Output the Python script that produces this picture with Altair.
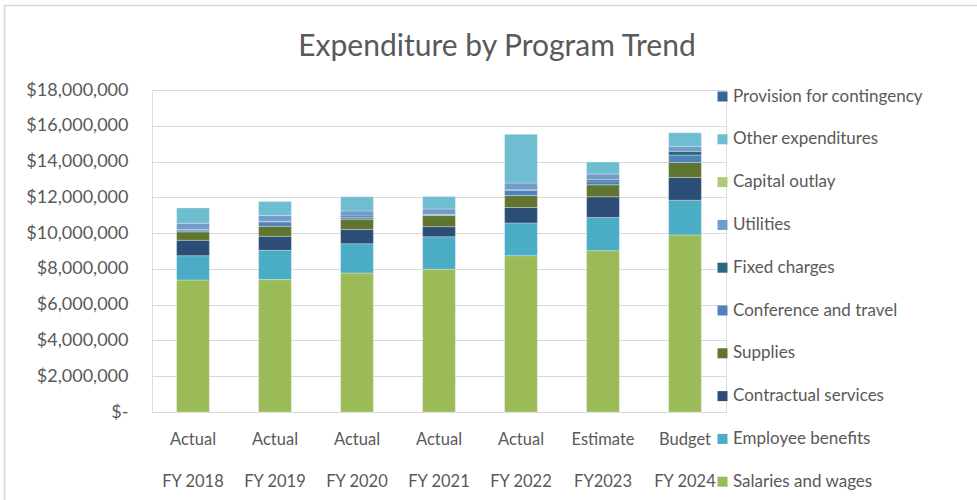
import altair as alt
import pandas as pd

years = ["Actual|FY 2018", "Actual|FY 2019", "Actual|FY 2020", "Actual|FY 2021",
         "Actual|FY 2022", "Estimate|FY2023", "Budget|FY 2024"]

salaries = [7380000, 7400000, 7770000, 7980000, 8740000, 9020000, 9900000]
benefits = [1360000, 1640000, 1640000, 1820000, 1830000, 1850000, 1940000]
contractual = [860000, 780000, 790000, 560000, 860000, 1160000, 1270000]
supplies = [470000, 560000, 580000, 620000, 670000, 670000, 840000]
conference = [100000, 250000, 100000, 50000, 280000, 220000, 410000]
fixed = [30000, 30000, 80000, 20000, 40000, 80000, 210000]
utilities = [350000, 320000, 280000, 300000, 380000, 300000, 280000]
capital = [0, 0, 0, 0, 0, 0, 0]
other = [860000, 790000, 790000, 690000, 2720000, 670000, 760000]
provision = [0, 0, 0, 0, 0, 0, 0]

series = [
    ("Salaries and wages", salaries, "#9BBB59"),
    ("Employee benefits", benefits, "#4BACC6"),
    ("Contractual services", contractual, "#2C4D75"),
    ("Supplies", supplies, "#5F7530"),
    ("Conference and travel", conference, "#4F81BD"),
    ("Fixed charges", fixed, "#276A7C"),
    ("Utilities", utilities, "#729ACA"),
    ("Capital outlay", capital, "#AFC97A"),
    ("Other expenditures", other, "#6FBDD1"),
    ("Provision for contingency", provision, "#3A6397"),
]

rows = []
for idx, (name, vals, _) in enumerate(series):
    for y, v in zip(years, vals):
        rows.append({"year": y, "category": name, "value": v, "ord": idx})
df = pd.DataFrame(rows)

legend_domain = [s[0] for s in series][::-1]
legend_colors = [s[2] for s in series][::-1]

FONT = "Lato"
GREY = "#595959"

bars = alt.Chart(df).transform_filter(
    alt.datum.value > 0
).mark_bar(stroke="white", strokeWidth=0.5, strokeOpacity=0.6).encode(
    x=alt.X("year:N", sort=years, title=None,
            scale=alt.Scale(paddingInner=0.6, paddingOuter=0.3),
            axis=alt.Axis(labelExpr="split(datum.value, '|')", labelAngle=0,
                          labelLineHeight=42, labelPadding=19, ticks=False,
                          domainColor="#D9D9D9", labelFontSize=16.5,
                          labelColor=GREY, labelFont=FONT)),
    y=alt.Y("value:Q", stack="zero", title=None,
            scale=alt.Scale(domain=[0, 18000000], nice=False),
            axis=alt.Axis(values=list(range(0, 18000001, 2000000)),
                          labelExpr="datum.value == 0 ? '$-\u2007\u2007' : format(datum.value, '$,.0f')",
                          ticks=False, domain=False, labelPadding=24,
                          gridColor="#D9D9D9", gridWidth=1,
                          labelFontSize=18, labelColor=GREY, labelFont=FONT)),
    color=alt.Color("category:N",
                    scale=alt.Scale(domain=legend_domain, range=legend_colors),
                    legend=alt.Legend(title=None, orient="none", legendX=562, legendY=-2,
                                      symbolType="square", symbolSize=100,
                                      symbolStrokeWidth=0, labelOffset=2,
                                      rowPadding=24.8, labelFontSize=17,
                                      labelColor=GREY, labelFont=FONT,
                                      labelLimit=300)),
    order=alt.Order("ord:Q", sort="ascending"),
)

frame = pd.DataFrame({"k": [0]})
top_border = alt.Chart(frame).mark_rule(color="#D9D9D9", strokeWidth=1.7).encode(
    x=alt.value(-148), x2=alt.value(830), y=alt.value(-84.5))
left_border = alt.Chart(frame).mark_rule(color="#D9D9D9", strokeWidth=1.7).encode(
    x=alt.value(-147.5), y=alt.value(-85), y2=alt.value(420))

chart = alt.layer(bars, top_border, left_border).properties(
    width=574, height=322,
    title=alt.TitleParams("Expenditure by Program Trend", fontSize=30, font=FONT,
                          fontWeight="normal", color=GREY, anchor="middle",
                          dx=58, offset=-58),
    autosize=alt.AutoSizeParams(type="none"),
    padding={"left": 152, "top": 90, "right": 251, "bottom": 88},
).configure_view(stroke=None).configure(background="white")

chart.save("out.html", embed_options={"renderer": "svg", "actions": False})
